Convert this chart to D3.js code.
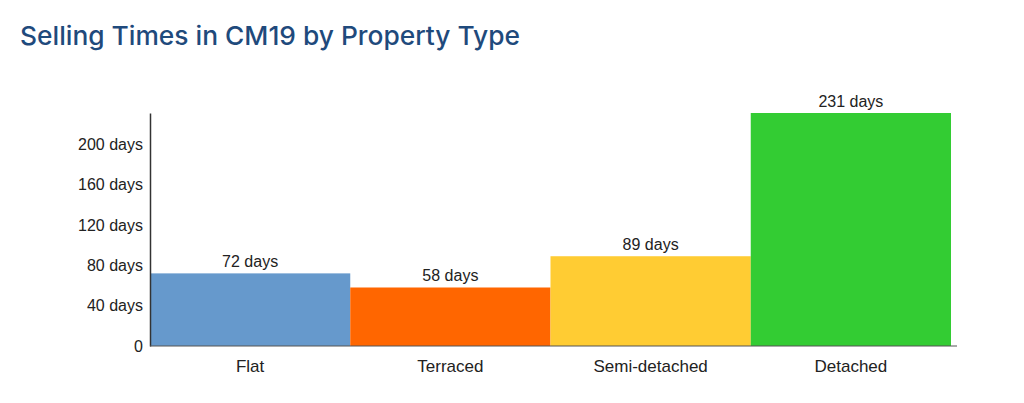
<!DOCTYPE html>
<html>
<head>
<meta charset="utf-8">
<script src="https://cdn.jsdelivr.net/npm/d3@7"></script>
<style>
  body { margin: 0; background: #fff; }
</style>
</head>
<body>
<div id="chart"></div>
<script>
const categories = ["Flat", "Terraced", "Semi-detached", "Detached"];
const days = [72, 58, 89, 231];
const barColors = ["#6699cc", "#ff6600", "#ffcc33", "#33cc33"];
const yTicks = [0, 40, 80, 120, 160, 200];

const width = 1024;
const height = 403;
const margin = { top: 113, right: 73, bottom: 57, left: 150 };

const svg = d3.select("#chart").append("svg")
  .attr("width", width)
  .attr("height", height);

svg.append("text")
  .attr("x", 20).attr("y", 45)
  .attr("textLength", 500)
  .attr("lengthAdjust", "spacingAndGlyphs")
  .style("font-family", "Inter, 'Open Sans', sans-serif")
  .style("font-size", "26px")
  .style("font-weight", "500")
  .style("fill", "#1f4a7c")
  .text("Selling Times in CM19 by Property Type");

const x = d3.scaleBand()
  .domain(categories)
  .range([margin.left, margin.left + 801])
  .padding(0);

const y = d3.scaleLinear()
  .domain([0, 231])
  .range([height - margin.bottom, margin.top]);

const bars = svg.append("g");
bars.selectAll("rect").data(days).join("rect")
  .attr("x", (d, i) => x(categories[i]))
  .attr("y", d => y(d))
  .attr("width", x.bandwidth())
  .attr("height", d => y(0) - y(d))
  .attr("fill", (d, i) => barColors[i]);

bars.selectAll("text").data(days).join("text")
  .attr("x", (d, i) => x(categories[i]) + x.bandwidth() / 2)
  .attr("y", d => y(d) - 6)
  .attr("text-anchor", "middle")
  .style("font-family", "'Liberation Sans', Arial, sans-serif")
  .style("font-size", "16px")
  .style("fill", "#222")
  .text(d => `${d} days`);

// y axis
const yAxis = svg.append("g")
  .attr("transform", `translate(${margin.left},0)`)
  .call(d3.axisLeft(y).tickValues(yTicks).tickSize(0).tickPadding(7)
    .tickFormat(d => d === 0 ? "0" : `${d} days`));
yAxis.select(".domain").attr("stroke", "#333").attr("stroke-width", 1.5);
yAxis.selectAll("text")
  .style("font-family", "'Liberation Sans', Arial, sans-serif")
  .style("font-size", "16px")
  .style("fill", "#222");

// x axis
const xAxis = svg.append("g")
  .attr("transform", `translate(0,${y(0)})`)
  .call(d3.axisBottom(x).tickSize(0).tickPadding(14));
xAxis.select(".domain").attr("d", `M${margin.left},0H${width - 67}`)
  .attr("stroke", "#555").attr("stroke-width", 1);
xAxis.selectAll("text")
  .style("font-family", "'Liberation Sans', Arial, sans-serif")
  .style("font-size", "17px")
  .style("fill", "#222");
</script>
</body>
</html>
